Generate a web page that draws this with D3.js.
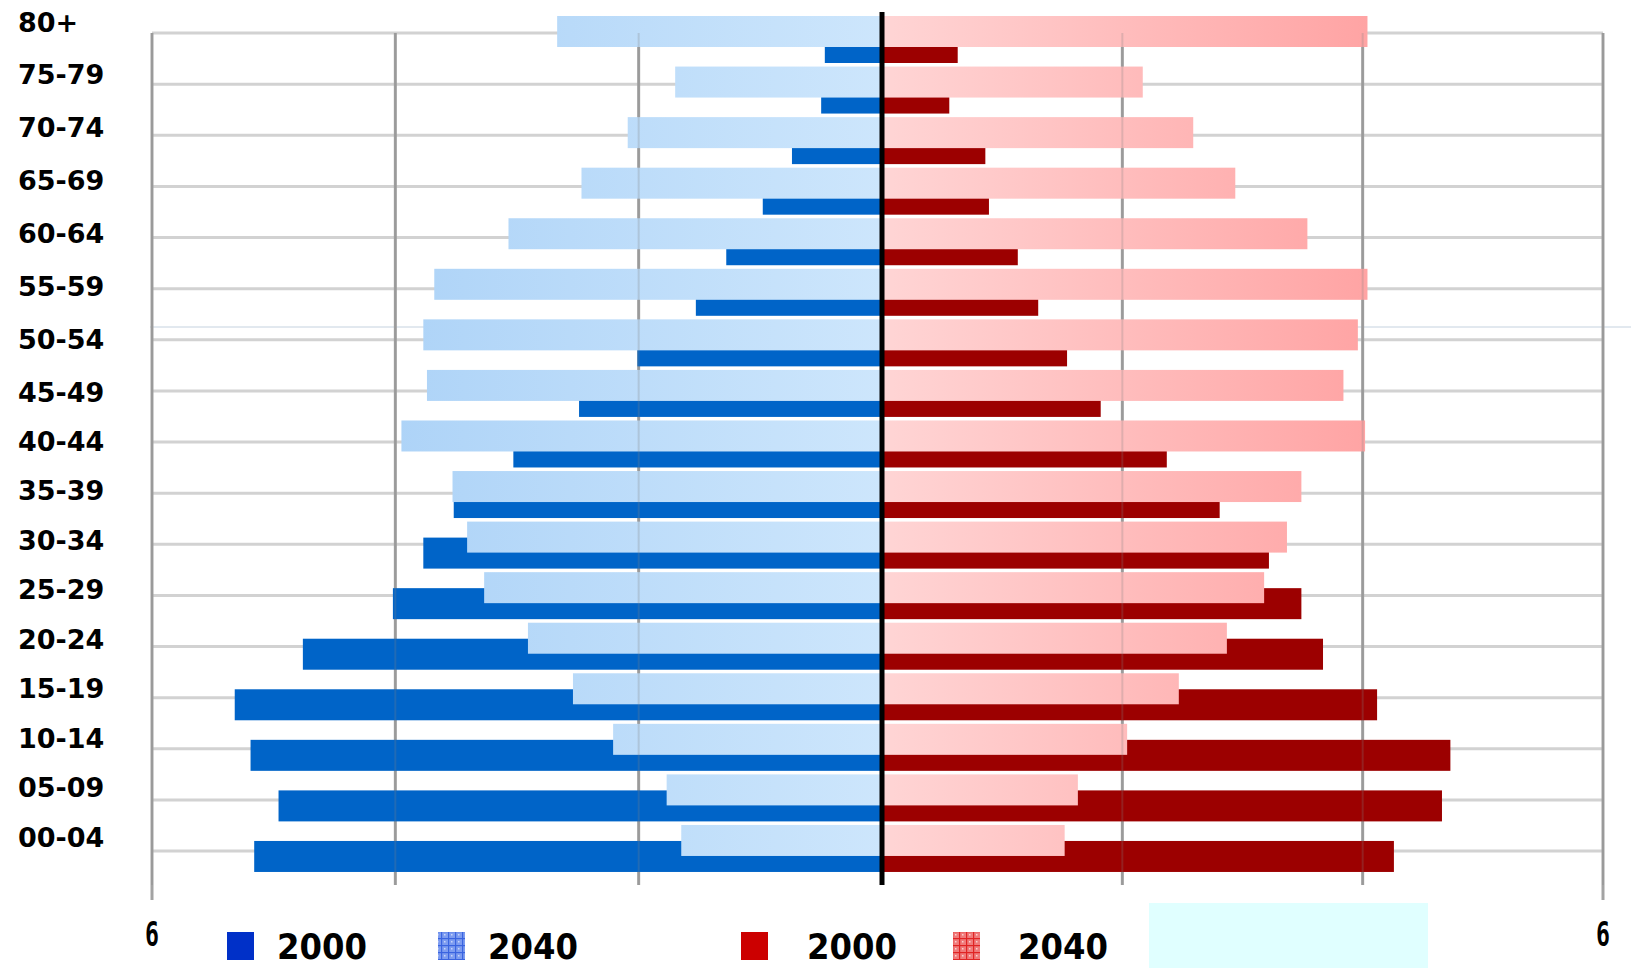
<!DOCTYPE html>
<html>
<head>
<meta charset="utf-8">
<script src="https://cdn.jsdelivr.net/npm/d3@7"></script>
<style>
  html, body { margin: 0; padding: 0; background: #ffffff; }
  svg { display: block; }
</style>
</head>
<body>
<svg id="chart" width="1631" height="968"></svg>
<script>
// ---------- data ----------
const ageGroups = ["80+","75-79","70-74","65-69","60-64","55-59","50-54","45-49","40-44","35-39","30-34","25-29","20-24","15-19","10-14","05-09","00-04"];
const male2000   = [0.47,0.50,0.74,0.98,1.28,1.53,2.01,2.49,3.03,3.52,3.77,4.02,4.76,5.32,5.19,4.96,5.16];
const male2040   = [2.67,1.70,2.09,2.47,3.07,3.68,3.77,3.74,3.95,3.53,3.41,3.27,2.91,2.54,2.21,1.77,1.65];
const female2000 = [0.63,0.56,0.86,0.89,1.13,1.30,1.54,1.82,2.37,2.81,3.22,3.49,3.67,4.12,4.73,4.66,4.26];
const female2040 = [4.04,2.17,2.59,2.94,3.54,4.04,3.96,3.84,4.02,3.49,3.37,3.18,2.87,2.47,2.04,1.63,1.52];
const gridValues = [2,4,6];
const axisEndLabels = ["6","6"];
const legendLabels = ["2000","2040","2000","2040"];

// ---------- setup ----------
const svg = d3.select("#chart");
const xL = d3.scaleLinear().domain([0,6]).range([882,152]);
const xR = d3.scaleLinear().domain([0,6]).range([882,1603]);
const yBar = d3.scaleBand().domain(ageGroups).range([16, 16 + 17*50.56]);
const yGrid = d3.scalePoint().domain(ageGroups).range([33, 851]);
const yLabel = d3.scaleLinear().domain([0,7,16]).range([22,392,837]);
const barH = 31, darkOff = 16;

const defs = svg.append("defs");
const gB = defs.append("linearGradient").attr("id","gBlue").attr("gradientUnits","userSpaceOnUse")
  .attr("x1",152).attr("x2",882).attr("y1",0).attr("y2",0);
gB.append("stop").attr("offset","0").attr("stop-color","#9ecaf5");
gB.append("stop").attr("offset","1").attr("stop-color","#cde6fc");
const gR = defs.append("linearGradient").attr("id","gRed").attr("gradientUnits","userSpaceOnUse")
  .attr("x1",882).attr("x2",1603).attr("y1",0).attr("y2",0);
gR.append("stop").attr("offset","0").attr("stop-color","#ffd5d5");
gR.append("stop").attr("offset","1").attr("stop-color","#ff8c8c");

function hatch(id, base, line, dot){
  const p = defs.append("pattern").attr("id",id).attr("patternUnits","userSpaceOnUse")
    .attr("width",7).attr("height",7);
  p.append("rect").attr("width",7).attr("height",7).attr("fill",base);
  p.append("rect").attr("x",0).attr("y",0).attr("width",7).attr("height",1.2).attr("fill",line);
  p.append("rect").attr("x",0).attr("y",0).attr("width",1.2).attr("height",7).attr("fill",line);
  p.append("rect").attr("x",3).attr("y",3).attr("width",1.5).attr("height",1.5).attr("fill",dot);
}
hatch("hBlue","#7d9cf0","#3a64e0","#c8d6fa");
hatch("hRed","#f07a7a","#e02424","#fbd0d0");

// ---------- grid (under bars) ----------
svg.append("g").selectAll("line").data(ageGroups).join("line")
  .attr("x1",152).attr("x2",1603)
  .attr("y1",d=>yGrid(d)).attr("y2",d=>yGrid(d))
  .attr("stroke","#d2d2d2").attr("stroke-width",3);

svg.append("line").attr("x1",150).attr("x2",1631).attr("y1",327).attr("y2",327)
  .attr("stroke","#c5d2df").attr("stroke-width",1);

const vgrid = [];
gridValues.forEach(v=>{ vgrid.push({v, x:xL(v)}); vgrid.push({v, x:xR(v)}); });
svg.append("g").selectAll("line").data(vgrid).join("line")
  .attr("x1",d=>d.x).attr("x2",d=>d.x)
  .attr("y1",33).attr("y2",d=>d.v===6?900:885)
  .attr("stroke","#a3a3a3").attr("stroke-width",3);

// ---------- bars ----------
const gBars = svg.append("g");
gBars.selectAll("rect.m2000").data(ageGroups).join("rect").attr("class","m2000")
  .attr("x",(d,i)=>xL(male2000[i])).attr("width",(d,i)=>xL(0)-xL(male2000[i]))
  .attr("y",d=>yBar(d)+darkOff).attr("height",barH).attr("fill","#0064c8");
gBars.selectAll("rect.f2000").data(ageGroups).join("rect").attr("class","f2000")
  .attr("x",xR(0)).attr("width",(d,i)=>xR(female2000[i])-xR(0))
  .attr("y",d=>yBar(d)+darkOff).attr("height",barH).attr("fill","#9c0000");
gBars.selectAll("rect.m2040").data(ageGroups).join("rect").attr("class","m2040")
  .attr("x",(d,i)=>xL(male2040[i])).attr("width",(d,i)=>xL(0)-xL(male2040[i]))
  .attr("y",d=>yBar(d)).attr("height",barH).attr("fill","url(#gBlue)");
gBars.selectAll("rect.f2040").data(ageGroups).join("rect").attr("class","f2040")
  .attr("x",xR(0)).attr("width",(d,i)=>xR(female2040[i])-xR(0))
  .attr("y",d=>yBar(d)).attr("height",barH).attr("fill","url(#gRed)");

// faint gridlines visible through bars
svg.append("g").selectAll("line").data(vgrid).join("line")
  .attr("x1",d=>d.x).attr("x2",d=>d.x)
  .attr("y1",33).attr("y2",885)
  .attr("stroke","#808080").attr("stroke-width",2).attr("stroke-opacity",0.25);

// center line
svg.append("line").attr("x1",xL(0)).attr("x2",xL(0)).attr("y1",12).attr("y2",885)
  .attr("stroke","#000").attr("stroke-width",5);

// ---------- category labels ----------
svg.append("g").selectAll("text").data(ageGroups).join("text")
  .attr("x",18).attr("y",(d,i)=>yLabel(i))
  .attr("dominant-baseline","central")
  .attr("font-family","DejaVu Sans").attr("font-weight","bold").attr("font-size",27)
  .attr("fill","#000").text(d=>d);

// ---------- axis end labels ----------
svg.append("g").selectAll("text").data([xL(6), xR(6)]).join("text")
  .attr("x",d=>d-7).attr("y",946)
  .attr("font-family","DejaVu Sans Mono").attr("font-weight","bold").attr("font-size",33)
  .attr("textLength",14).attr("lengthAdjust","spacingAndGlyphs")
  .attr("fill","#000").text((d,i)=>axisEndLabels[i]);

// ---------- legend ----------
const legend = [
  {sx:227, tx:277, fill:"#0030c8"},
  {sx:438, tx:488, fill:"url(#hBlue)"},
  {sx:741, tx:807, fill:"#cc0000"},
  {sx:953, tx:1018, fill:"url(#hRed)"}
];
const lg = svg.append("g");
lg.selectAll("rect").data(legend).join("rect")
  .attr("x",d=>d.sx).attr("y",932).attr("width",27).attr("height",28).attr("fill",d=>d.fill);
lg.selectAll("text").data(legend).join("text")
  .attr("x",d=>d.tx).attr("y",959)
  .attr("font-family","DejaVu Sans").attr("font-weight","bold").attr("font-size",36)
  .attr("textLength",90).attr("lengthAdjust","spacingAndGlyphs")
  .attr("fill","#000").text((d,i)=>legendLabels[i]);

// light cyan box
svg.append("rect").attr("x",1149).attr("y",903).attr("width",279).attr("height",65).attr("fill","#e0ffff");
</script>
</body>
</html>
